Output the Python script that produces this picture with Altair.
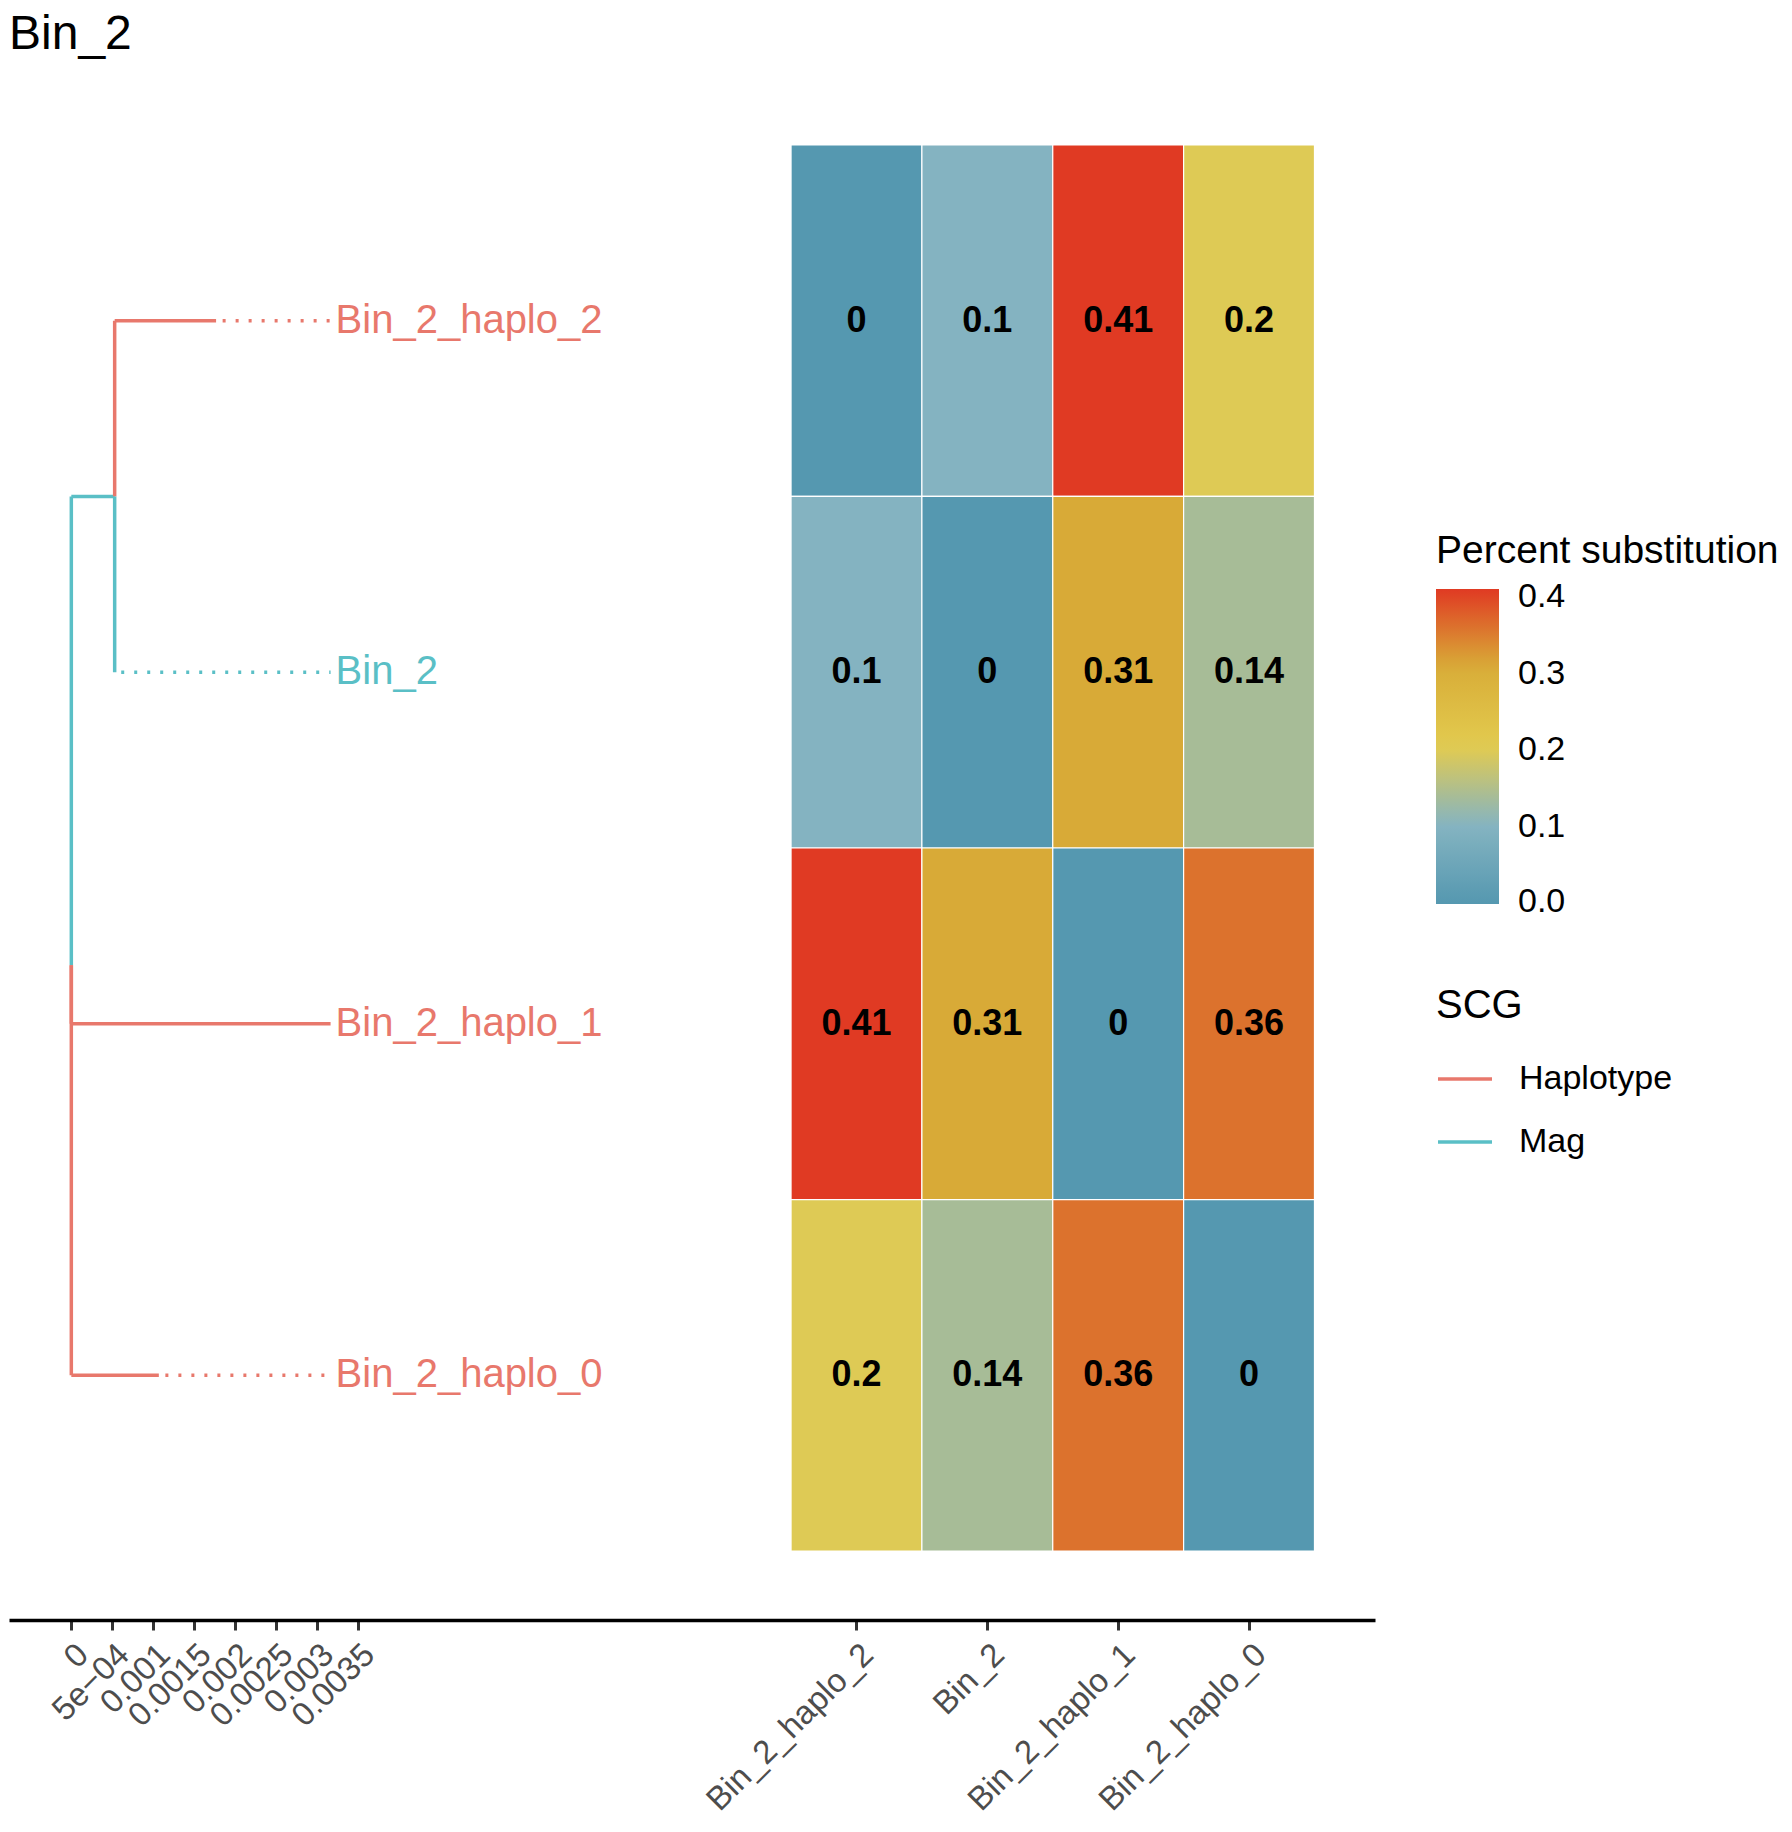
import altair as alt
import pandas as pd

FONT = "Liberation Sans"

# ---------------- data ----------------
title_text = "Bin_2"

tip_names = ["Bin_2_haplo_0", "Bin_2_haplo_1", "Bin_2", "Bin_2_haplo_2"]
tip_y = [1, 2, 3, 4]
tip_x = [0.00107, 0.00317, 0.00053, 0.00177]
tip_group = ["Haplotype", "Haplotype", "Mag", "Haplotype"]

internal_names = ["root", "A"]
internal_x = [0.0, 0.00053]
internal_children = {"A": ["Bin_2", "Bin_2_haplo_2"],
                     "root": ["A", "Bin_2_haplo_1", "Bin_2_haplo_0"]}

edge_parent = ["root", "A", "A", "root", "root"]
edge_child = ["A", "Bin_2_haplo_2", "Bin_2", "Bin_2_haplo_1", "Bin_2_haplo_0"]
edge_group = ["Mag", "Haplotype", "Mag", "Haplotype", "Haplotype"]

heat_cols = ["Bin_2_haplo_2", "Bin_2", "Bin_2_haplo_1", "Bin_2_haplo_0"]
heat_rows = ["Bin_2_haplo_2", "Bin_2", "Bin_2_haplo_1", "Bin_2_haplo_0"]
heat_values = [
    [0.0, 0.1, 0.41, 0.2],
    [0.1, 0.0, 0.31, 0.14],
    [0.41, 0.31, 0.0, 0.36],
    [0.2, 0.14, 0.36, 0.0],
]

tree_ticks = [0, 0.0005, 0.001, 0.0015, 0.002, 0.0025, 0.003, 0.0035]
tree_tick_labels = ["0", "5e\u221204", "0.001", "0.0015", "0.002", "0.0025", "0.003", "0.0035"]

group_names = ["Haplotype", "Mag"]
group_colors = ["#E8786C", "#5ABFC6"]

pct_stops = [0.0, 0.1025, 0.205, 0.3075, 0.41]
pct_colors = ["#5598B0", "#85B4C1", "#E3CB4F", "#D8AD38", "#E03A23"]
legend_values = [0.002, 0.1, 0.2, 0.3, 0.4]

# ---------------- layout (data units) ----------------
HEAT_X0 = 0.0088
COL_W = 0.0016
X_DOMAIN = [-0.000762, 0.01594]
Y_DOMAIN = [0.304, 4.696]

# node positions
pos = {n: (x, y) for n, x, y in zip(tip_names, tip_x, tip_y)}
for n, x in zip(reversed(internal_names), reversed(internal_x)):
    ys = [pos[c][1] for c in internal_children[n]]
    pos[n] = (x, sum(ys) / len(ys))

seg_rows = []
for p, c, g in zip(edge_parent, edge_child, edge_group):
    px, py = pos[p]
    cx, cy = pos[c]
    seg_rows.append(dict(x=px, x2=px, y=py, y2=cy, group=g, style="solid"))
    seg_rows.append(dict(x=px, x2=cx, y=cy, y2=cy, group=g, style="solid"))
max_x = max(tip_x)
for n, x, y, g in zip(tip_names, tip_x, tip_y, tip_group):
    if x < max_x - 1e-12:
        seg_rows.append(dict(x=x + 0.00008, x2=max_x, y=y, y2=y, group=g, style="dotted"))
seg_df = pd.DataFrame(seg_rows)

tip_df = pd.DataFrame(dict(name=tip_names, y=tip_y, group=tip_group, x=[max_x] * len(tip_names)))

row_y = {n: y for n, y in zip(tip_names, tip_y)}
heat_rows_data = []
for r, row in zip(heat_rows, heat_values):
    for j, (c, v) in enumerate(zip(heat_cols, row)):
        heat_rows_data.append(dict(
            x0=HEAT_X0 + j * COL_W, x1=HEAT_X0 + (j + 1) * COL_W,
            xc=HEAT_X0 + (j + 0.5) * COL_W,
            y0=row_y[r] - 0.5, y1=row_y[r] + 0.5, yc=row_y[r],
            pct=v, label=f"{v:g}"))
heat_df = pd.DataFrame(heat_rows_data)

col_centers = [HEAT_X0 + (j + 0.5) * COL_W for j in range(len(heat_cols))]
tick_values = tree_ticks + col_centers
tick_labels = tree_tick_labels + heat_cols
expr = "''"
for v, l in reversed(list(zip(tick_values, tick_labels))):
    expr = f"abs(datum.value - {v}) < 1e-9 ? '{l}' : ({expr})"

# ---------------- scales ----------------
xscale = alt.Scale(domain=X_DOMAIN, nice=False, zero=False)
yscale = alt.Scale(domain=Y_DOMAIN, nice=False, zero=False)
xaxis = alt.Axis(values=tick_values, labelExpr=expr, labelAngle=-45, labelAlign="right",
                 labelBaseline="top", labelFontSize=33, labelColor="#4D4D4D", labelFont=FONT,
                 tickColor="#333333", tickWidth=3, tickSize=10, domainColor="black",
                 domainWidth=3.5, grid=False, title=None, labelPadding=8,
                 labelOverlap=False, labelFlush=False, labelBound=False, labelLimit=0)
group_scale = alt.Scale(domain=group_names, range=group_colors)

heat = alt.Chart(heat_df).mark_rect(stroke="white", strokeWidth=1.2).encode(
    x=alt.X("x0:Q", scale=xscale, axis=xaxis),
    x2="x1:Q",
    y=alt.Y("y0:Q", scale=yscale, axis=None),
    y2="y1:Q",
    fill=alt.Fill("pct:Q",
                  scale=alt.Scale(domain=pct_stops, range=pct_colors, interpolate="rgb"),
                  legend=alt.Legend(title="Percent substitution", orient="none",
                                    legendX=1427, legendY=456, direction="vertical",
                                    gradientLength=315, gradientThickness=63,
                                    values=legend_values, format=".1f",
                                    titleFontSize=39, titleFont=FONT, titleFontWeight="normal",
                                    titleColor="black", titlePadding=18, titleLimit=0,
                                    labelFontSize=34, labelFont=FONT, labelColor="black",
                                    labelOffset=19, labelBaseline="middle",
                                    labelOverlap=False, gradientStrokeWidth=0)),
)

heat_text = alt.Chart(heat_df).mark_text(font=FONT, fontWeight="bold", fontSize=36,
                                         color="black").encode(
    x=alt.X("xc:Q", scale=xscale),
    y=alt.Y("yc:Q", scale=yscale),
    text="label:N",
)

tree = alt.Chart(seg_df).mark_rule(strokeWidth=3.5).encode(
    x=alt.X("x:Q", scale=xscale),
    x2="x2:Q",
    y=alt.Y("y:Q", scale=yscale),
    y2="y2:Q",
    stroke=alt.Stroke("group:N", scale=group_scale,
                      legend=alt.Legend(title="SCG", orient="none", legendX=1427, legendY=910,
                                        symbolType="stroke", symbolSize=2916,
                                        symbolStrokeWidth=3.5, titleFontSize=40,
                                        titleFont=FONT, titleFontWeight="normal",
                                        titleColor="black", titlePadding=24, titleLimit=0,
                                        labelFontSize=34, labelFont=FONT, labelColor="black",
                                        labelOffset=25, rowPadding=17, labelLimit=0)),
    strokeDash=alt.StrokeDash("style:N",
                              scale=alt.Scale(domain=["solid", "dotted"], range=[[1, 0], [3, 10]]),
                              legend=None),
)

tips = alt.Chart(tip_df).mark_text(align="left", baseline="middle", dx=5, fontSize=40,
                                   font=FONT).encode(
    x=alt.X("x:Q", scale=xscale),
    y=alt.Y("y:Q", scale=yscale),
    text="name:N",
    fill=alt.Fill("group:N", scale=group_scale, legend=None),
)

chart = alt.layer(heat, heat_text, tree, tips).resolve_scale(fill="independent").properties(
    width=1366, height=1544,
    padding={"left": 1, "top": 3, "right": 0, "bottom": 0},
    title=alt.TitleParams(text=title_text, anchor="start", fontSize=48, font=FONT,
                          fontWeight="normal", color="black", offset=17),
    background="white",
).configure_view(stroke=None)

chart.save("out.html", embed_options={"renderer": "svg", "actions": False})
